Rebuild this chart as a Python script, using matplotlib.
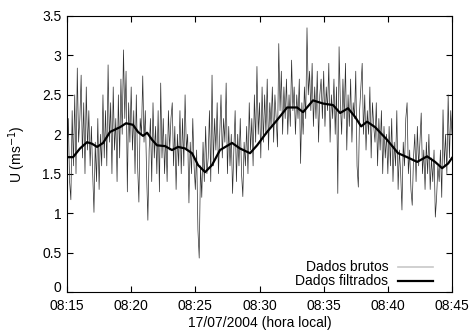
import matplotlib
matplotlib.use('Agg')
import matplotlib.pyplot as plt
import matplotlib.dates as mdates
from matplotlib.transforms import ScaledTranslation
import numpy as np
from datetime import datetime, timedelta

START = datetime(2004, 7, 17, 8, 15)

# raw wind speed, one value every 6 s (one row per minute)
RAW_U = [
    1.7, 2.2, 1.4, 1.17, 2.3, 1.6, 2.5, 1.5, 2.84, 1.9,
    2.2, 2.75, 1.7, 2.4, 1.5, 2.6, 1.8, 2.3, 1.6, 2.1,
    1.5, 1.01, 1.9, 1.4, 2.2, 1.3, 2.0, 1.6, 2.5, 1.7,
    2.3, 1.6, 2.88, 1.9, 2.4, 1.5, 2.6, 1.8, 2.2, 1.4,
    2.5, 1.7, 2.7, 2.0, 3.07, 2.2, 2.8, 1.27, 2.4, 1.9,
    2.6, 1.8, 2.3, 1.5, 2.5, 1.6, 1.14, 2.2, 2.0, 2.74,
    1.9, 2.3, 1.5, 0.91, 1.8, 2.2, 1.4, 2.4, 1.7, 2.1,
    1.5, 2.3, 1.27, 2.65, 1.7, 2.2, 1.5, 2.0, 1.4, 2.3,
    1.8, 2.2, 2.40, 1.6, 2.1, 1.3, 2.0, 1.6, 2.3, 1.5,
    2.2, 1.6, 2.5, 1.8, 2.0, 1.13, 1.9, 1.5, 2.2, 1.6,
    1.3, 1.8, 0.79, 0.43, 1.6, 1.2, 1.9, 1.4, 2.1, 1.5,
    1.7, 2.3, 1.4, 2.75, 1.6, 2.2, 1.8, 2.4, 1.5, 2.0,
    2.5, 1.7, 2.2, 1.9, 2.65, 1.5, 2.1, 1.6, 2.0, 1.25,
    1.8, 2.3, 1.4, 2.0, 1.6, 2.2, 1.5, 1.21, 1.9, 1.6,
    2.1, 1.5, 2.4, 1.8, 2.2, 1.6, 2.5, 1.9, 2.86, 2.0,
    2.4, 1.7, 2.6, 1.9, 2.5, 2.0, 2.7, 1.8, 2.4, 2.1,
    2.6, 1.9, 2.5, 2.2, 1.84, 3.15, 2.3, 2.8, 2.0, 2.6,
    2.2, 2.7, 2.0, 2.5, 2.1, 2.94, 2.3, 2.6, 2.0, 2.5,
    2.2, 2.7, 1.63, 2.4, 2.0, 2.6, 2.2, 3.35, 2.5, 2.8,
    2.3, 2.9, 2.1, 2.6, 2.2, 2.8, 1.9, 2.5, 2.7, 2.2,
    2.8, 2.1, 2.6, 2.3, 2.9, 1.9, 2.5, 2.2, 2.7, 2.0,
    2.6, 1.25, 3.11, 2.4, 2.0, 2.7, 2.2, 2.9, 1.8, 2.5,
    2.1, 2.7, 1.9, 2.4, 2.2, 2.8, 1.6, 1.33, 2.3, 2.6,
    2.90, 2.0, 2.5, 1.8, 2.3, 2.0, 2.6, 1.7, 2.40, 2.1,
    1.9, 2.4, 1.6, 2.2, 1.8, 2.3, 1.5, 2.1, 1.7, 2.0,
    1.5, 2.1, 1.6, 2.2, 1.4, 1.9, 1.6, 2.3, 1.3, 1.8,
    1.5, 1.04, 1.9, 1.6, 2.2, 2.40, 1.5, 1.8, 1.3, 1.10,
    1.7, 2.0, 1.4, 2.1, 1.6, 1.9, 2.27, 1.5, 1.8, 1.3,
    1.9, 1.5, 2.0, 1.3, 1.7, 1.4, 1.8, 0.95, 1.2, 1.6,
    1.4, 1.8, 1.2, 2.31, 1.6, 2.0, 1.5, 2.50, 1.7, 2.3,
    2.0,
]
RAW_STEP_S = 6

# filtered curve: minutes after 08:15 and value
FILT_MIN = [0, 0.47, 1.01, 1.56, 1.95, 2.34, 2.81, 3.35, 3.74, 4.13, 4.6,
            5.14, 5.53, 5.92, 6.24, 6.63, 7.01, 7.64, 8.18, 8.65, 9.2, 9.74,
            10.21, 10.76, 11.3, 11.92, 12.86, 13.48, 14.26, 14.81, 15.59,
            16.37, 17.15, 17.93, 18.39, 19.17, 19.95, 20.73, 21.28, 21.9,
            22.45, 22.92, 23.38, 24.01, 24.94, 25.8, 26.5, 27.28, 28.06,
            28.68, 29.23, 29.7, 30.0]
FILT_U = [1.71, 1.71, 1.82, 1.90, 1.88, 1.84, 1.89, 2.03, 2.06, 2.09, 2.14,
          2.12, 2.03, 1.98, 2.02, 1.93, 1.86, 1.85, 1.80, 1.84, 1.82, 1.76,
          1.61, 1.52, 1.61, 1.80, 1.89, 1.82, 1.76, 1.86, 2.03,
          2.18, 2.34, 2.34, 2.28, 2.43, 2.39, 2.37, 2.27, 2.33,
          2.22, 2.10, 2.16, 2.09, 1.93, 1.76, 1.71, 1.65, 1.72,
          1.65, 1.57, 1.63, 1.70]

LEGEND_LABELS = ['Dados brutos', 'Dados filtrados']

plt.rcParams['font.family'] = ['Liberation Sans', 'DejaVu Sans']

raw_t = [START + timedelta(seconds=RAW_STEP_S * i) for i in range(len(RAW_U))]
filt_t = [START + timedelta(minutes=m) for m in FILT_MIN]

fig = plt.figure(figsize=(4.74, 3.31), dpi=100)
ax = fig.add_axes([0.1414, 0.1178, 0.8122, 0.8339])

ax.plot(raw_t, RAW_U, color='#2e2e2e', lw=0.5)
ax.plot(filt_t, FILT_U, color='black', lw=1.6, solid_joinstyle='round')

ax.set_xlim(START, START + timedelta(minutes=30))
ax.set_ylim(0, 3.5)
ax.set_yticks(np.arange(0, 3.51, 0.5))
ax.set_yticklabels(['0', '0.5', '1', '1.5', '2', '2.5', '3', '3.5'])
ax.xaxis.set_major_locator(mdates.MinuteLocator(byminute=range(0, 60, 5)))
ax.xaxis.set_major_formatter(mdates.DateFormatter('%H:%M'))

ax.tick_params(direction='in', top=True, right=True, length=4, width=0.8,
               labelsize=10)
ax.tick_params(axis='x', pad=5)
ax.tick_params(axis='y', pad=4)
for sp in ax.spines.values():
    sp.set_linewidth(0.8)

# lift the "0" label a little so it clears the 08:15 label
zero = ax.get_yticklabels()[0]
zero.set_transform(zero.get_transform() +
                   ScaledTranslation(0, 4 / 72, fig.dpi_scale_trans))

ax.set_xlabel('17/07/2004 (hora local)', fontsize=10, labelpad=2)
ax.set_ylabel('U (ms$^{-1}$)', fontsize=10, labelpad=10)

# gnuplot-style key: right-aligned labels, sample line to the right
key_styles = [dict(color='#c8c8c8', lw=1.2), dict(color='black', lw=1.6)]
for row, (label, style) in enumerate(zip(LEGEND_LABELS, key_styles)):
    yk = 0.092 - row * 0.051
    ax.text(0.835, yk, label, transform=ax.transAxes, ha='right',
            va='center', fontsize=10)
    ax.plot([0.86, 0.95], [yk, yk], transform=ax.transAxes, **style)

fig.savefig('out.png', dpi=100)
